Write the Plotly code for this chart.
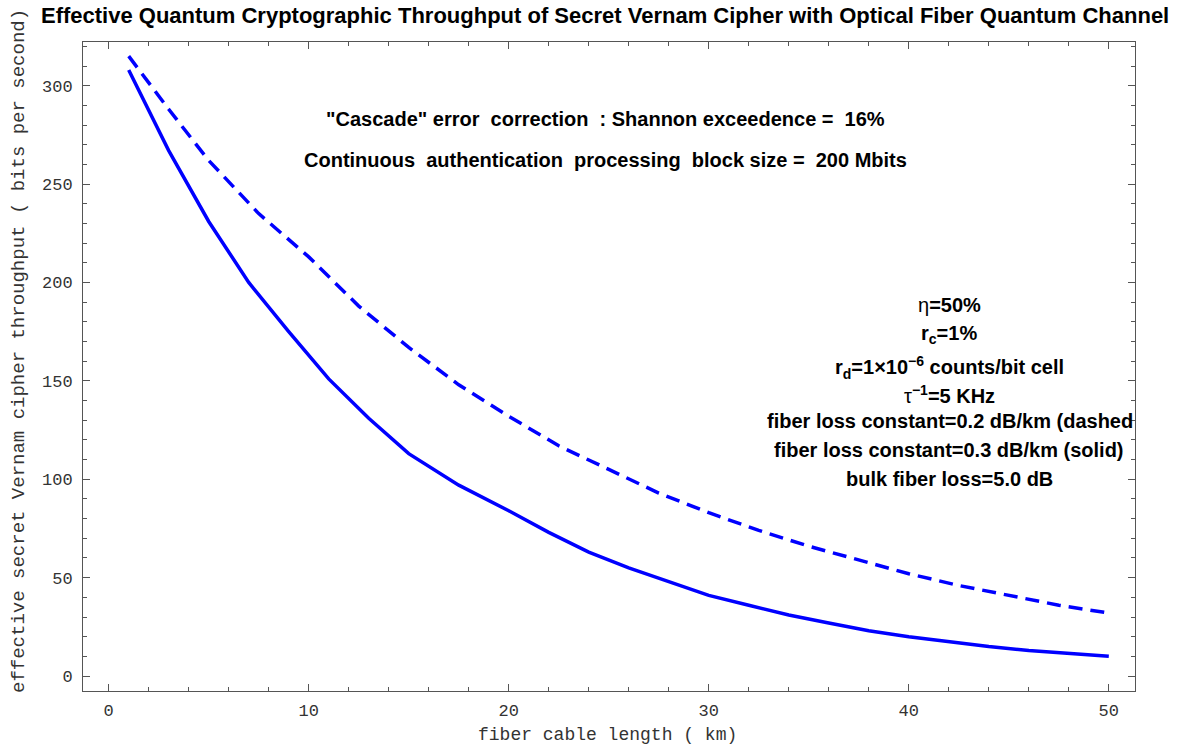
import plotly.graph_objects as go

# fiber cable length (km) and throughput (bits per second)
x_solid = [1, 3, 5, 7, 9, 11, 13, 15, 17.5, 20, 22, 24, 26, 28, 30, 32, 34, 36, 38, 40, 42, 44, 46, 48, 50]
y_solid = [308, 267, 231, 200, 175, 151, 131, 113, 97, 84, 73, 63, 55, 48, 41, 36, 31, 27, 23, 20, 17.5, 15, 13, 11.5, 10]

x_dashed = [1, 3, 5, 7.5, 10, 12.5, 15, 17.5, 20, 22.5, 25, 27.5, 30, 32.5, 35, 37.5, 40, 42.5, 45, 47.5, 50]
y_dashed = [315, 288, 262, 235, 213, 188, 167, 148, 132, 117, 105, 93, 83, 74, 66, 59, 52, 46, 41, 36, 32]

x_ticks = [0, 10, 20, 30, 40, 50]
y_ticks = [0, 50, 100, 150, 200, 250, 300]

title_text = "Effective Quantum Cryptographic Throughput of Secret Vernam Cipher with Optical Fiber Quantum Channel"
x_title = "fiber cable length (\u00a0km)"
y_title = "effective secret Vernam cipher throughput (\u00a0bits per second)"

top_notes = [
    "\"Cascade\" error\u00a0 correction\u00a0 : Shannon exceedence = \u00a016%",
    "Continuous\u00a0 authentication\u00a0 processing\u00a0 block size = \u00a0200 Mbits",
]
param_notes = [
    "<span style='font-weight:normal'>\u03b7</span>=50%",
    "r<sub>c</sub>=1%",
    "r<sub>d</sub>=1\u00d710<sup>\u22126</sup> counts/bit cell",
    "<span style='font-weight:normal'>\u03c4</span><sup>\u22121</sup>=5 KHz",
    "fiber loss constant=0.2 dB/km (dashed",
    "fiber loss constant=0.3 dB/km (solid)",
    "bulk fiber loss=5.0 dB",
]

W, H = 1188, 745
L, R, T, B = 83, 1135, 42, 691

def px(xp):
    return (xp - L) / (R - L)

def py(yp):
    return (B - yp) / (B - T)

fig = go.Figure()
fig.add_trace(go.Scatter(x=x_dashed, y=y_dashed, mode="lines", line=dict(color="#0000ff", width=3.5, dash="14px,8px"), showlegend=False))
fig.add_trace(go.Scatter(x=x_solid, y=y_solid, mode="lines", line=dict(color="#0000ff", width=3.5), showlegend=False))

bold_font = dict(family="Liberation Sans, Arial", size=20, color="black")
annotations = []
annotations.append(dict(text="<b>" + title_text + "</b>", x=px(605), y=py(16), xref="paper", yref="paper",
                        showarrow=False, xanchor="center", yanchor="middle",
                        font=dict(family="Liberation Sans, Arial", size=22, color="black")))

for txt, yp in zip(top_notes, [119, 160]):
    annotations.append(dict(text="<b>" + txt + "</b>", x=px(605), y=py(yp), xref="paper", yref="paper",
                            showarrow=False, xanchor="center", yanchor="middle", font=bold_font))

for i, (txt, yp) in enumerate(zip(param_notes, [305, 334, 367, 395, 421, 450, 479])):
    if i == 4:
        annotations.append(dict(text="<b>" + txt + "</b>", x=px(1135), y=py(yp), xref="paper", yref="paper",
                                showarrow=False, xanchor="right", yanchor="middle", font=bold_font))
    else:
        annotations.append(dict(text="<b>" + txt + "</b>", x=px(949), y=py(yp), xref="paper", yref="paper",
                                showarrow=False, xanchor="center", yanchor="middle", font=bold_font))

annotations.append(dict(text=x_title, x=px(607), y=py(735), xref="paper", yref="paper", showarrow=False,
                        xanchor="center", yanchor="middle",
                        font=dict(family="Liberation Mono, Courier New", size=18, color="#333")))
annotations.append(dict(text=y_title, x=px(19), y=py(351), xref="paper", yref="paper", showarrow=False,
                        xanchor="center", yanchor="middle", textangle=-90,
                        font=dict(family="Liberation Mono, Courier New", size=19, color="#333")))

axis_common = dict(showline=True, linecolor="#555", linewidth=1, mirror="ticks", ticks="inside",
                   ticklen=7, tickwidth=1, tickcolor="#555", showgrid=False, zeroline=False,
                   automargin=False,
                   tickfont=dict(family="Liberation Mono, Courier New", size=17, color="#333"))

fig.update_layout(
    width=W, height=H,
    margin=dict(l=L, r=W - R, t=T, b=H - B, autoexpand=False),
    paper_bgcolor="white", plot_bgcolor="white",
    xaxis=dict(range=[-1.285, 51.31], tickvals=x_ticks, ticklabelstandoff=4,
               minor=dict(ticks="inside", ticklen=4, dtick=2, tick0=0, tickcolor="#555", showgrid=False),
               **axis_common),
    yaxis=dict(range=[-7.6, 322.2], tickvals=y_ticks, ticklabelstandoff=6,
               minor=dict(ticks="inside", ticklen=4, dtick=10, tick0=0, tickcolor="#555", showgrid=False),
               **axis_common),
    annotations=annotations,
)

fig.write_html("out.html", config={"displayModeBar": False},
               post_script="document.body.style.margin='0px';document.body.style.overflow='hidden';")
